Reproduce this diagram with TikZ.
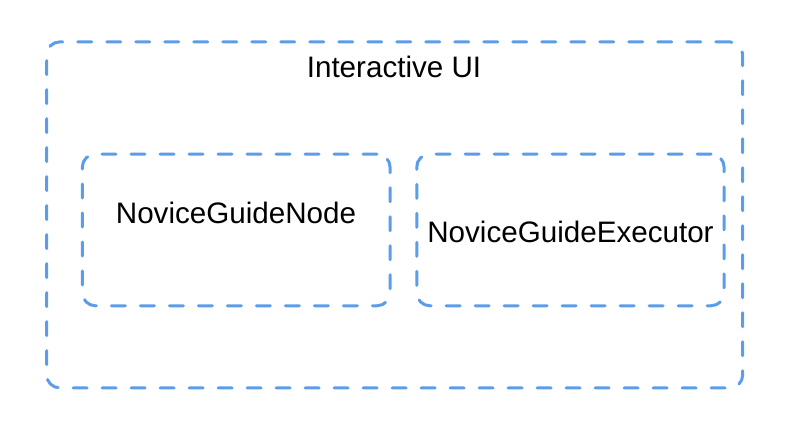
\documentclass[tikz,border=0pt]{standalone}
\usepackage{fontspec}
\setmainfont{Liberation Sans}
\definecolor{dashblue}{RGB}{91,157,232}
\begin{document}
\begin{tikzpicture}[x=1pt,y=-1pt,
  dbox/.style={draw=dashblue, line width=3pt, dash pattern=on 14pt off 15pt, line cap=round, rounded corners=13pt, inner sep=0pt, outer sep=0pt},
  lbl/.style={font=\fontsize{29.6}{34}\selectfont, inner sep=0pt, anchor=base}]
\useasboundingbox (0,0) rectangle (794,440);
\node[dbox, minimum width=696pt, minimum height=346pt] (outer) at (394.7,214.9) {};
\node[dbox, minimum width=307.7pt, minimum height=151.7pt] (left) at (236.2,229.9) {};
\node[dbox, minimum width=307.3pt, minimum height=151.7pt] (right) at (570.4,229.9) {};
\node[lbl] (title) at (394,77) {Interactive UI};
\node[lbl] (ltext) at (236,223.3) {NoviceGuideNode};
\node[lbl] (rtext) at (570.5,242) {NoviceGuideExecutor};
\end{tikzpicture}
\end{document}
